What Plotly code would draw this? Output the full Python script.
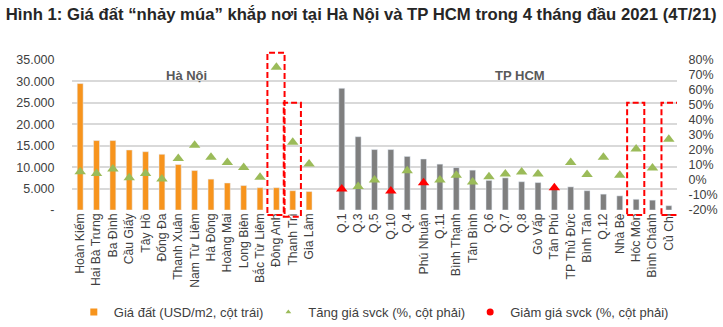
import plotly.graph_objects as go

# ---------------- data ----------------
hn_districts = ["Hoàn Kiếm", "Hai Bà Trưng", "Ba Đình", "Cầu Giấy", "Tây Hồ", "Đống Đa",
                "Thanh Xuân", "Nam Từ Liêm", "Hà Đông", "Hoàng Mai", "Long Biên",
                "Bắc Từ Liêm", "Đông Anh", "Thanh Trì", "Gia Lâm"]
hcm_districts = ["Q.1", "Q.3", "Q.5", "Q.10", "Q.4", "Phú Nhuận", "Q.11", "Bình Thạnh",
                 "Tân Bình", "Q.6", "Q.7", "Q.8", "Gò Vấp", "Tân Phú", "TP Thủ Đức",
                 "Bình Tân", "Q.12", "Nhà Bè", "Hóc Môn", "Bình Chánh", "Củ Chi"]

# land price, USD/m2 (left axis)
hn_price = [29500, 16200, 16200, 14000, 13600, 13000, 10600, 9200, 7200, 6300, 5700,
            5200, 5200, 4500, 4300]
hcm_price = [28400, 17100, 14100, 14100, 12500, 11900, 10700, 9900, 9300, 6900, 7500,
             6600, 6400, 5100, 5400, 4500, 3700, 3300, 2500, 2300, 1000]

# yoy change, % (right axis)
hn_change = [5.5, 4.4, 7.3, 1.5, 4.4, 0.7, 14.4, 23.1, 15.1, 11.6, 8.4, 1.8, 75.1, 25.1, 10.7]
hcm_change = [-6.0, -4.4, 0.0, -7.3, 6.2, -1.8, 0.0, 3.1, -1.3, 2.2, 4.0, 5.3, 4.0, -5.1,
              11.6, 3.6, 15.1, 3.1, 20.7, 8.0, 27.1]
hcm_decrease = ["Q.1", "Q.10", "Phú Nhuận", "Tân Phú"]

left_ticks = [0, 5000, 10000, 15000, 20000, 25000, 30000, 35000]
left_ticktext = ["-", "5.000", "10.000", "15.000", "20.000", "25.000", "30.000", "35.000"]
right_ticks = [-20, -10, 0, 10, 20, 30, 40, 50, 60, 70, 80]
right_ticktext = ["-20%", "-10%", "0%", "10%", "20%", "30%", "40%", "50%", "60%", "70%", "80%"]

highlight_tall = ["Đông Anh"]
highlight_short = ["Thanh Trì", "Hóc Môn", "Củ Chi"]

# ---------------- build ----------------
gap = " "
categories = hn_districts + [gap] + hcm_districts

FONT = "Arial, Liberation Sans, sans-serif"
ORANGE = "#F7941D"
GRAY = "#7F7F7F"
GREEN = "#9BBB59"
RED = "#FF0000"
TXT = "#404040"

fig = go.Figure()

fig.add_trace(go.Bar(x=hn_districts, y=hn_price, marker_color=ORANGE, width=0.36,
                     showlegend=False, yaxis="y"))
fig.add_trace(go.Bar(x=hcm_districts, y=hcm_price, marker_color=GRAY, width=0.36,
                     showlegend=False, yaxis="y"))

inc_x = hn_districts + [d for d in hcm_districts if d not in hcm_decrease]
inc_y = hn_change + [v for d, v in zip(hcm_districts, hcm_change) if d not in hcm_decrease]
dec_x = [d for d in hcm_districts if d in hcm_decrease]
dec_y = [v for d, v in zip(hcm_districts, hcm_change) if d in hcm_decrease]

fig.add_trace(go.Scatter(x=inc_x, y=inc_y, mode="markers", yaxis="y2",
                         marker=dict(symbol="triangle-up", size=10, color=GREEN),
                         showlegend=False, cliponaxis=False))
fig.add_trace(go.Scatter(x=dec_x, y=dec_y, mode="markers", yaxis="y2",
                         marker=dict(symbol="triangle-up", size=10, color=RED),
                         showlegend=False, cliponaxis=False))

# legend entries
fig.add_trace(go.Scatter(x=[None], y=[None], mode="markers", name="Giá đất (USD/m2, cột trái)",
                         marker=dict(symbol="square", size=7, color=ORANGE)))
fig.add_trace(go.Scatter(x=[None], y=[None], mode="markers", name="Tăng giá svck (%, cột phải)",
                         marker=dict(symbol="triangle-up", size=5, color=GREEN)))
fig.add_trace(go.Scatter(x=[None], y=[None], mode="markers", name="Giảm giá svck (%, cột phải)",
                         marker=dict(symbol="circle", size=7, color=RED)))

# red dashed highlight boxes
shapes = []
for name in highlight_tall + highlight_short:
    i = categories.index(name)
    top = 1.049 if name in highlight_tall else 0.715
    bottom = -0.045 if name == "Thanh Trì" else -0.033
    x0 = i - 0.45 if name == "Củ Chi" else i - 0.55
    x1 = i + 0.6 if name == "Củ Chi" else i + 0.5
    shapes.append(dict(type="rect", xref="x", yref="paper", x0=x0, x1=x1,
                       y0=bottom, y1=top, line=dict(color=RED, width=2, dash="6px,3px"),
                       fillcolor="rgba(0,0,0,0)", layer="above"))

annotations = [
    dict(text="<b>Hà Nội</b>", x=6.5, y=31500, xref="x", yref="y", showarrow=False,
         font=dict(family=FONT, size=13, color="#595959")),
    dict(text="<b>TP HCM</b>", x=26.9, y=31500, xref="x", yref="y", showarrow=False,
         font=dict(family=FONT, size=13, color="#595959")),
]

fig.update_layout(
    width=723, height=327,
    margin=dict(l=72, r=46, t=60, b=117, autoexpand=False),
    paper_bgcolor="white", plot_bgcolor="white",
    title=dict(text="<b>Hình 1: Giá đất “nhảy múa” khắp nơi tại Hà Nội và TP HCM trong 4 tháng đầu 2021 (4T/21)</b>",
               x=0.008, xanchor="left", y=0.958, yanchor="middle",
               font=dict(family="Liberation Sans, Arial, sans-serif",
                         size=16.7, color="#262626")),
    font=dict(family=FONT, size=12, color=TXT),
    bargap=0.5,
    barmode="overlay",
    xaxis=dict(type="category", categoryorder="array", categoryarray=categories,
               range=[-0.5, len(categories) - 0.5], tickangle=-90,
               showgrid=False, showline=False, zeroline=False, ticks="",
               tickfont=dict(family=FONT, size=12.2, color=TXT)),
    yaxis=dict(range=[0, 35000], tickvals=left_ticks, ticktext=left_ticktext,
               showgrid=True, gridcolor="#D9D9D9", gridwidth=1.5, zeroline=False,
               showline=False, ticks="outside", ticklen=14, tickcolor="rgba(0,0,0,0)",
               tickfont=dict(family=FONT, size=12.5, color=TXT)),
    yaxis2=dict(range=[-20, 80], tickvals=right_ticks, ticktext=right_ticktext,
                overlaying="y", side="right", showgrid=False, zeroline=False, showline=False,
                ticks="outside", ticklen=8, tickcolor="rgba(0,0,0,0)",
                tickfont=dict(family=FONT, size=12.5, color=TXT)),
    legend=dict(orientation="h", x=0.003, xanchor="left", y=-0.68, yanchor="middle",
                font=dict(family=FONT, size=13, color=TXT),
                bgcolor="rgba(0,0,0,0)", borderwidth=0, tracegroupgap=0, itemwidth=30),
    shapes=shapes,
    annotations=annotations,
)

fig.write_html("out.html")
